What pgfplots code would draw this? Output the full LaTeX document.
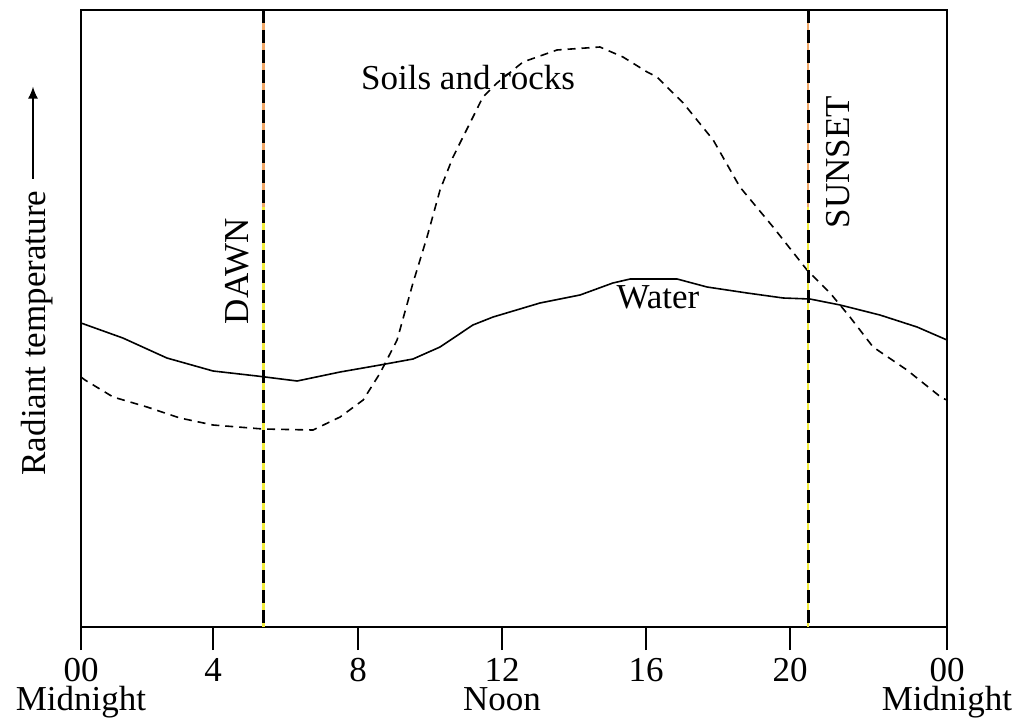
\documentclass[border=0pt]{standalone}
\usepackage{fontspec}
\setmainfont{Liberation Serif}
\usepackage{pgfplots}
\pgfplotsset{compat=1.18}
\usetikzlibrary{arrows.meta}
\definecolor{dawnorange}{HTML}{F0A868}
\definecolor{dawnyellow}{HTML}{F2EC3C}
\newcommand{\lbl}{\fontsize{17.5}{14.5}\selectfont}

\begin{document}
\begin{tikzpicture}
\begin{axis}[
  name=ax,
  scale only axis,
  width=433pt, height=308.5pt,
  xmin=0, xmax=24, ymin=0, ymax=617,
  clip=false,
  axis line style={black,line width=1pt},
  ytick=\empty,
  xtick={0,3.66,7.68,11.67,15.66,19.65,24},
  xticklabels={00\\Midnight,4,8,12\\Noon,16,20,00\\Midnight},
  xtick pos=bottom, tick align=outside,
  major tick length=11.5pt,
  tick style={black,line width=0.8pt},
  xticklabel style={font=\lbl,align=center,text depth=0pt,yshift=-3pt,inner sep=1pt},
]
% water, radiant temperature over the day
\addplot[black,line width=0.8pt] coordinates {
  (0,304) (1.16,289) (2.38,269) (3.66,256) (4.88,251) (5.99,246)
  (7.18,255) (8.29,262) (9.20,268) (9.95,280) (10.86,302) (11.42,310)
  (12.72,324) (13.83,332) (14.74,344) (15.22,348) (16.05,348) (16.52,348)
  (17.35,340) (18.46,334) (19.46,329) (20.20,328) (21.04,322) (22.14,312)
  (23.17,300) (24,287)};
% soils and rocks
\addplot[black,line width=0.8pt,dash pattern=on 4pt off 3pt] coordinates {
  (0,250) (0.11,247) (0.89,230) (1.83,220) (2.74,209) (3.66,202) (5.04,198)
  (6.43,197) (7.18,210) (7.82,227) (8.29,254) (8.76,287) (9.20,344)
  (9.59,390) (9.95,437) (10.31,470) (10.78,504) (11.14,530) (11.53,544)
  (12.25,565) (13.19,577) (14.38,580) (15.02,570) (15.69,555) (15.96,550)
  (16.69,524) (17.52,487) (18.26,440) (19.18,400) (20.12,357) (20.76,334)
  (21.31,310) (21.95,280) (22.89,257) (23.86,229) (24,227)};
% dawn and sunset markers
\addplot[dawnorange,line width=1.4pt] coordinates {(5.06,617) (5.06,420)};
\addplot[dawnyellow,line width=1.4pt] coordinates {(5.06,420) (5.06,0)};
\addplot[dawnorange,line width=1.4pt] coordinates {(20.15,617) (20.15,420)};
\addplot[dawnyellow,line width=1.4pt] coordinates {(20.15,420) (20.15,0)};
\addplot[black,line width=1.5pt,dash pattern=on 6.5pt off 3.5pt] coordinates {(5.06,617) (5.06,0)};
\addplot[black,line width=1.5pt,dash pattern=on 6.5pt off 3.5pt] coordinates {(20.15,617) (20.15,0)};
\node[font=\lbl,anchor=base] at (axis cs:10.73,537) {Soils and rocks};
\node[font=\lbl,anchor=base] at (axis cs:15.99,319) {Water};
\node[font=\lbl,rotate=90] at (axis cs:4.32,356) {DAWN};
\node[font=\lbl,rotate=90] at (axis cs:20.98,465) {SUNSET};
\node[font=\lbl,rotate=90] (ylab) at ([xshift=-22pt,yshift=-7.25pt]rel axis cs:0,0.5) {Radiant temperature};
\draw[black,line width=0.8pt,-{Latex[length=6pt,width=5pt]}]
  ([xshift=-2pt,yshift=2.5pt]ylab.east) -- ++(0,46pt);
\end{axis}
\path ([xshift=-40.5pt,yshift=-48pt]ax.south west) rectangle ([xshift=36pt,yshift=5pt]ax.north east);
\end{tikzpicture}
\end{document}
